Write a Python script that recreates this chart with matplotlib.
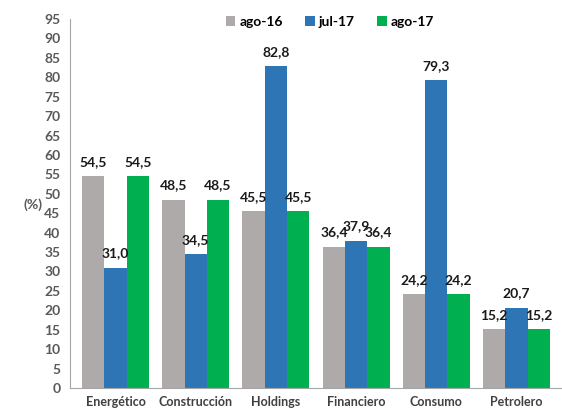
import matplotlib.pyplot as plt
import numpy as np

# datos del grafico
categorias = ["Energético", "Construcción", "Holdings", "Financiero", "Consumo", "Petrolero"]
series = ["ago-16", "jul-17", "ago-17"]
ago16 = [54.5, 48.5, 45.5, 36.4, 24.2, 15.2]
jul17 = [31.0, 34.5, 82.8, 37.9, 79.3, 20.7]
ago17 = [54.5, 48.5, 45.5, 36.4, 24.2, 15.2]
colores = ["#AEAAAA", "#2E75B6", "#00B050"]

plt.rcParams['font.family'] = ['Lato', 'DejaVu Sans']

fig = plt.figure(figsize=(5.62, 4.12), dpi=100)
ax = fig.add_axes([70/562, 24/412, 492/562, 369/412])

x = np.arange(len(categorias))
ancho = 0.278
valores = [ago16, jul17, ago17]

for i, (nombre, vals, c) in enumerate(zip(series, valores, colores)):
    pos = x + (i - 1) * ancho
    barras = ax.bar(pos, vals, ancho, color=c, label=nombre)
    for b, v in zip(barras, vals):
        ax.annotate(f"{v:.1f}".replace(".", ","),
                    (b.get_x() + b.get_width() / 2, v),
                    xytext=(0, 6), textcoords="offset points",
                    ha="center", va="bottom", fontsize=10, fontweight="bold",
                    color="#1a1a1a")

ax.set_xlim(-0.567, 5.567)
ax.set_ylim(0, 95)
ax.set_yticks(np.arange(0, 96, 5))
ax.set_xticks(x)
ax.set_xticklabels(categorias, fontsize=9, fontweight="bold", color="#404040")
for t in ax.get_yticklabels():
    t.set_fontweight("bold")
    t.set_fontsize(10)
    t.set_color("#595959")
ax.tick_params(axis="both", length=0)
ax.tick_params(axis="x", pad=6)
ax.tick_params(axis="y", pad=7)

for s in ["top", "right"]:
    ax.spines[s].set_visible(False)
ax.spines["left"].set_color("#A6A6A6")
ax.spines["bottom"].set_color("#A6A6A6")

fig.text(33/562, 1 - 205/412, "(%)", fontsize=10, fontweight="bold",
         color="#595959", ha="center", va="center")

leg = fig.legend(loc="center", bbox_to_anchor=(330/562, 1 - 22/412), ncol=3,
                 frameon=False, handlelength=0.7, handleheight=0.7,
                 handletextpad=0.3, columnspacing=1.6,
                 prop={"weight": "bold", "size": 10})

fig.savefig("out.png", dpi=100)
